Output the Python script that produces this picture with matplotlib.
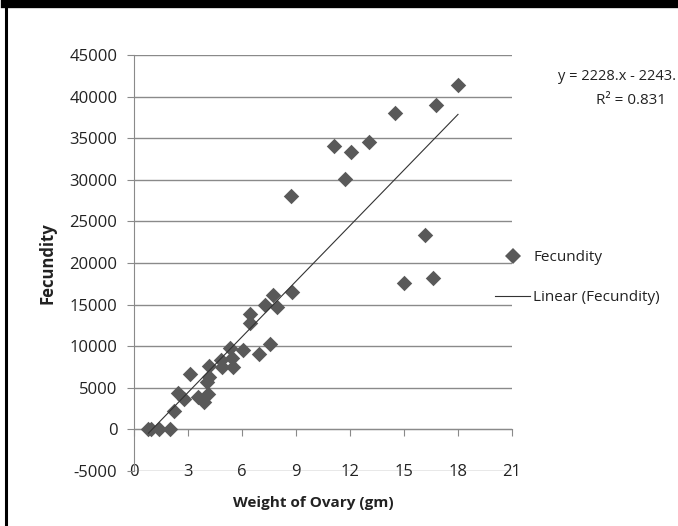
import numpy as np
import matplotlib.pyplot as plt
from matplotlib.lines import Line2D

# weight of ovary (gm) vs fecundity
weight = [0.8, 0.95, 1.4, 2.0, 2.2, 2.45, 2.75, 3.1, 3.55, 3.9, 4.1, 4.05,
          4.15, 4.15, 4.85, 4.9, 5.35, 5.45, 5.5, 6.05, 6.45, 6.45, 6.95,
          7.25, 7.55, 7.7, 7.95, 8.8, 8.7, 11.1, 11.7, 12.05, 13.05, 14.5,
          15.0, 16.15, 16.6, 16.8, 18.0]
fecundity = [100, 0, 50, 50, 2200, 4400, 3700, 6700, 3900, 3300, 4200, 5700,
             6300, 7600, 8300, 7500, 9800, 8600, 7500, 9500, 13900, 12800, 9100,
             14900, 10300, 16200, 14700, 16500, 28000, 34100, 30100, 33400, 34600, 38000,
             17600, 23400, 18200, 39000, 41400]

# linear trendline shown in the chart
slope = 2228
intercept = -2243
eq_text = 'y = 2228.x - 2243.'
r2_text = 'R² = 0.831'

x_ticks = [0, 3, 6, 9, 12, 15, 18, 21]
y_ticks = list(range(-5000, 45001, 5000))

plt.rcParams['font.family'] = ['Open Sans', 'DejaVu Sans']
plt.rcParams['axes.unicode_minus'] = False

W, H = 678, 526
fig = plt.figure(figsize=(W / 100, H / 100), dpi=100)
ax = fig.add_axes([134 / W, 1 - 471 / H, 378 / W, 416 / H])

grey = '#8a8a8a'
mark = '#595959'
txt = '#222222'

ax.scatter(weight, fecundity, marker='D', s=62, color=mark, zorder=3,
           linewidths=0)

# trendline over the data range
xs = np.array([min(weight), max(weight)])
ax.plot(xs, slope * xs + intercept, color='#333333', lw=0.8, zorder=4)

ax.set_xlim(0, 21)
ax.set_ylim(-5000, 45000)
ax.set_xticks(x_ticks)
ax.set_yticks(y_ticks)
ax.yaxis.grid(True, color=grey, lw=1)
ax.set_axisbelow(True)

for s in ['top', 'right']:
    ax.spines[s].set_visible(False)
ax.spines['bottom'].set_position(('data', 0))
ax.spines['bottom'].set_color(grey)
ax.spines['left'].set_color(grey)

ax.tick_params(axis='x', direction='out', length=5, color=grey, pad=20,
               labelsize=12, labelcolor=txt)
ax.tick_params(axis='y', direction='out', length=5, color=grey, pad=7,
               labelsize=12, labelcolor=txt)

fig.text(47 / W, 1 - 263 / H, 'Fecundity', rotation=90, ha='center',
         va='center', fontsize=12, fontweight='bold', color=txt)
fig.text(313 / W, 1 - 503 / H, 'Weight of Ovary (gm)', ha='center',
         va='center', fontsize=11, fontweight='bold', color=txt)

fig.text(676 / W, 1 - 77 / H, eq_text, ha='right', va='center',
         fontsize=10.5, color=txt)
fig.text(631 / W, 1 - 101 / H, r2_text, ha='center', va='center',
         fontsize=11, color=txt)

handles = [Line2D([], [], marker='D', ls='none', color=mark,
                  markersize=7.8, markeredgewidth=0),
           Line2D([], [], color='#333333', lw=0.8)]
fig.legend(handles, ['Fecundity', 'Linear (Fecundity)'], loc='center left',
           bbox_to_anchor=(495 / W, 1 - 277.5 / H), frameon=False,
           borderpad=0, borderaxespad=0, handlelength=2.3,
           handletextpad=0.2, labelspacing=1.65, fontsize=11,
           labelcolor=txt)

# black frame on top and left edge of the picture
fig.add_artist(Line2D([5 / W, 1], [1 - 4 / H, 1 - 4 / H], color='black',
                      lw=6, transform=fig.transFigure))
fig.add_artist(Line2D([6 / W, 6 / W], [0, 1], color='black', lw=2.2,
                      transform=fig.transFigure))

fig.savefig('out.png', dpi=100)
